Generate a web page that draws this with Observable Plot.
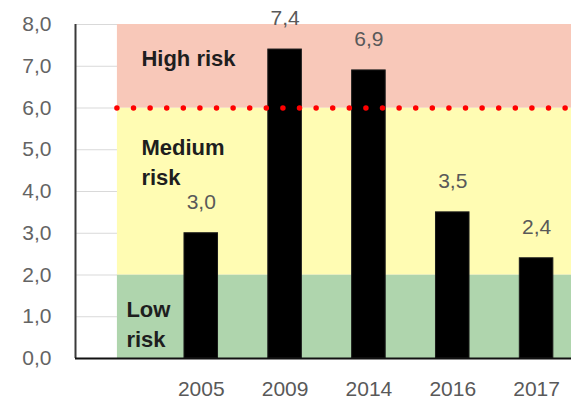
<!DOCTYPE html>
<html>
<head>
<meta charset="utf-8">
<script src="https://cdn.jsdelivr.net/npm/d3@7"></script>
<script src="https://cdn.jsdelivr.net/npm/@observablehq/plot@0.6"></script>
<style>
  html, body { margin: 0; padding: 0; background: #fff; }
  #chart svg { overflow: hidden; display: block; }
</style>
</head>
<body>
<div id="chart"></div>
<script>
// Category slots along the x axis; the first (empty) slot holds the zone labels.
const categories = ["", "2005", "2009", "2014", "2016", "2017"];
const years = ["2005", "2009", "2014", "2016", "2017"];
const values = [3.0, 7.4, 6.9, 3.5, 2.4];

// Value axis
const yTicks = [0, 1, 2, 3, 4, 5, 6, 7, 8];
const yTickLabels = ["0,0", "1,0", "2,0", "3,0", "4,0", "5,0", "6,0", "7,0", "8,0"];

// Risk zones
const zoneNames = ["Low\nrisk", "Medium\nrisk", "High risk"];
const zoneFrom = [0, 2, 6];
const zoneTo = [2, 6, 8];
const highRiskThreshold = 6;

// Styling
const zoneFill = ["#afd5ad", "#fffcb3", "#f8c8b9"];
const zoneLabelDx = [9, 24, 24];
const zoneLabelDy = [21, 26, 20];
const font = "'Liberation Sans', Arial, sans-serif";

const slot = (cat) => categories.indexOf(cat) + 0.5;
const comma = (v) => v.toFixed(1).replace(".", ",");

const bars = years.map((year, i) => ({year, value: values[i], label: comma(values[i])}));
const zones = zoneNames.map((name, i) => ({name, from: zoneFrom[i], to: zoneTo[i], fill: zoneFill[i]}));
const xStart = 0;
const xEnd = categories.length;
const zoneStart = slot("");

const chart = Plot.plot({
  width: 571,
  height: 402,
  marginTop: 24,
  marginBottom: 44,
  marginLeft: 75,
  marginRight: 0,
  style: {fontFamily: font, background: "#fff", overflow: "hidden"},
  x: {type: "linear", domain: [xStart, xEnd], range: [75, 578]},
  y: {domain: [0, 8]},
  marks: [
    // light horizontal grid
    Plot.ruleY(yTicks.slice(1), {x1: xStart, x2: xEnd, stroke: "#d9d9d9", strokeWidth: 1}),
    // risk zones
    Plot.rect(zones, {x1: zoneStart, x2: xEnd, y1: "from", y2: "to", fill: "fill"}),
    // zone labels
    ...zones.map((z, i) => Plot.text([z], {
      x: zoneStart, y: "to", text: "name",
      textAnchor: "start", lineAnchor: "top", lineHeight: 1.36,
      dx: zoneLabelDx[i], dy: zoneLabelDy[i],
      fontSize: 22, fontWeight: "bold", fill: "#1e1e1e"
    })),
    // bars
    Plot.rectY(bars, {
      x1: d => slot(d.year) - 0.2, x2: d => slot(d.year) + 0.2,
      y: "value", fill: "#000", stroke: "#1a1a1a", strokeWidth: 1
    }),
    // high-risk threshold
    Plot.ruleY([highRiskThreshold], {
      x1: zoneStart, x2: xEnd, stroke: "#ff0000", strokeWidth: 5.5,
      strokeDasharray: "0 16.6", strokeLinecap: "round"
    }),
    // value labels
    Plot.text(bars, {
      x: d => slot(d.year), y: "value", text: "label",
      dy: -31, fontSize: 21, fill: "#595959"
    }),
    // axes lines
    Plot.ruleX([xStart], {y1: 0, y2: 8, stroke: "#3a3a3a", strokeWidth: 2}),
    Plot.ruleY([0], {x1: xStart, x2: xEnd, stroke: "#111", strokeWidth: 2}),
    Plot.axisY({
      ticks: yTicks, tickFormat: (d) => yTickLabels[yTicks.indexOf(d)],
      tickSize: 0, tickPadding: 24, fontSize: 21, fill: "#646464", label: null
    }),
    Plot.axisX({
      ticks: years.map(slot), tickFormat: (d) => categories[Math.round(d - 0.5)],
      tickSize: 0, tickPadding: 23, fontSize: 21, fill: "#595959", label: null
    })
  ]
});

document.getElementById("chart").append(chart);
</script>
</body>
</html>
